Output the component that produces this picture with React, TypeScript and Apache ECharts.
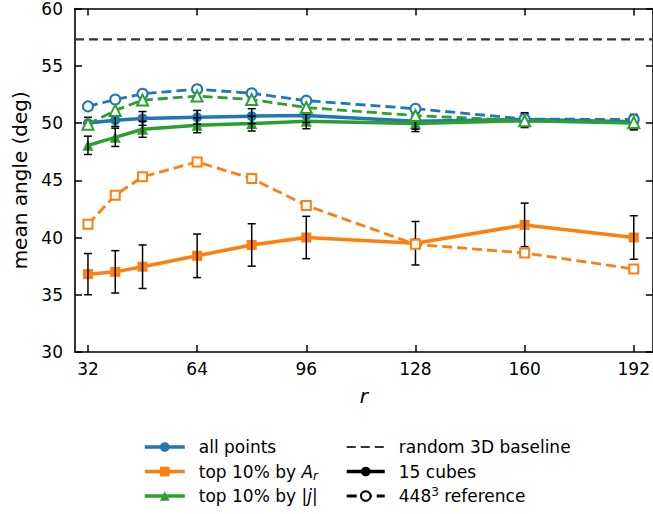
import React, { useEffect, useRef } from 'react';
import * as echarts from 'echarts';

// ---- data ----
const rValues = [32, 40, 48, 64, 80, 96, 128, 160, 192];
const xTicks = [32, 64, 96, 128, 160, 192];
const yTicks = [30, 35, 40, 45, 50, 55, 60];

const allCubes = [50.0, 50.25, 50.4, 50.5, 50.6, 50.65, 50.15, 50.3, 50.1];
const allCubesErr = [0.5, 0.55, 0.6, 0.6, 0.65, 0.6, 0.7, 0.6, 0.65];
const allRef = [51.45, 52.05, 52.55, 52.95, 52.6, 51.95, 51.25, 50.35, 50.3];

const arCubes = [36.8, 37.0, 37.45, 38.4, 39.35, 40.0, 39.5, 41.1, 40.0];
const arCubesErr = [1.8, 1.85, 1.9, 1.9, 1.85, 1.85, 1.9, 1.9, 1.9];
const arRef = [41.15, 43.7, 45.3, 46.6, 45.15, 42.8, 39.4, 38.65, 37.25];

const jCubes = [48.05, 48.75, 49.45, 49.8, 49.95, 50.15, 49.95, 50.2, 50.0];
const jCubesErr = [0.8, 0.8, 0.7, 0.65, 0.65, 0.65, 0.7, 0.6, 0.6];
const jRef = [49.9, 51.1, 52.0, 52.35, 52.05, 51.35, 50.65, 50.2, 50.05];

const baselineValue = 57.2958; // random 3D baseline (1 rad)

const X_MIN = 28.2;
const X_MAX = 197.6;

const FONT = 'DejaVu Sans';
const BLUE = '#1f77b4';
const ORANGE = '#ff7f0e';
const GREEN = '#2ca02c';
const DASH = [10, 5];

const pairs = (vals: number[]) => rValues.map((r, i) => [r, vals[i]]);
const errData = (vals: number[], errs: number[]) =>
  rValues.map((r, i) => [r, vals[i] - errs[i], vals[i] + errs[i]]);

const renderErr = (_params: any, api: any) => {
  const x = api.value(0);
  const lo = api.coord([x, api.value(1)]);
  const hi = api.coord([x, api.value(2)]);
  const half = 4;
  const style = { stroke: '#000', lineWidth: 1.5 };
  return {
    type: 'group',
    children: [
      { type: 'line', shape: { x1: lo[0], y1: lo[1], x2: hi[0], y2: hi[1] }, style },
      { type: 'line', shape: { x1: lo[0] - half, y1: lo[1], x2: lo[0] + half, y2: lo[1] }, style },
      { type: 'line', shape: { x1: hi[0] - half, y1: hi[1], x2: hi[0] + half, y2: hi[1] }, style },
    ],
  };
};

const cubesSeries = (name: string, vals: number[], color: string, symbol: string, size: number) => ({
  name,
  type: 'line',
  data: pairs(vals),
  symbol,
  symbolSize: size,
  showSymbol: true,
  itemStyle: { color },
  lineStyle: { color, width: 3.5 },
  z: 2,
});

const refSeries = (name: string, vals: number[], color: string, symbol: string, size: number) => ({
  name,
  type: 'line',
  data: pairs(vals),
  symbol,
  symbolSize: size,
  showSymbol: true,
  itemStyle: { color: '#fff', borderColor: color, borderWidth: 2 },
  lineStyle: { color, width: 2.8, type: DASH },
  z: 4,
});

const errSeries = (name: string, vals: number[], errs: number[]) => ({
  name,
  type: 'custom',
  data: errData(vals, errs),
  encode: { x: 0, y: [1, 2] },
  renderItem: renderErr,
  z: 3,
});

const textBase = { fontFamily: FONT, fontSize: 17, color: '#000', lineHeight: 20 };
const rich = {
  i: { ...textBase, fontStyle: 'italic' },
  sub: { fontFamily: FONT, fontSize: 12, fontStyle: 'italic', color: '#000', lineHeight: 8, verticalAlign: 'bottom' },
  sup: { fontFamily: FONT, fontSize: 12, color: '#000', lineHeight: 8, verticalAlign: 'top' },
};

const legendNames: Record<string, string> = {
  'all points': 'all points',
  'top 10% by Ar': 'top 10% by {i|A}{sub|r}',
  'top 10% by |j|': 'top 10% by |{i|j}|',
  'random 3D baseline': 'random 3D baseline',
  '15 cubes': '15 cubes',
  '448³ reference': '448{sup|3} reference',
};

const solidLegend = { width: 3.5 };
const dashLegend = { width: 2.8 };

export default function App() {
  const ref = useRef<HTMLDivElement>(null);
  useEffect(() => {
    document.body.style.margin = '0';
    if (!ref.current) return;
    const chart = echarts.init(ref.current, undefined, { renderer: 'svg' });
    const axisLine = { show: true, onZero: false, lineStyle: { color: '#000', width: 1.6 } };
    const tick = { show: true, inside: true, length: 7, lineStyle: { color: '#000', width: 1.5 } };
    const option: any = {
      animation: false,
      backgroundColor: '#fff',
      grid: { left: 75, right: 0, top: 8, bottom: 162, containLabel: false },
      xAxis: [
        {
          type: 'value',
          position: 'bottom',
          min: X_MIN,
          max: X_MAX,
          axisLine,
          axisTick: { ...tick, customValues: xTicks },
          axisLabel: { customValues: xTicks, fontFamily: FONT, fontSize: 17, color: '#000', margin: 8 },
          splitLine: { show: false },
          name: 'r',
          nameLocation: 'middle',
          nameGap: 34,
          nameTextStyle: { fontFamily: FONT, fontSize: 20, fontStyle: 'italic', color: '#000' },
        },
        {
          type: 'value',
          position: 'top',
          min: X_MIN,
          max: X_MAX,
          axisLine,
          axisTick: { ...tick, customValues: xTicks },
          axisLabel: { show: false, customValues: xTicks },
          splitLine: { show: false },
        },
      ],
      yAxis: [
        {
          type: 'value',
          position: 'left',
          min: 30,
          max: 60,
          interval: 5,
          axisLine,
          axisTick: { ...tick, customValues: yTicks },
          axisLabel: { customValues: yTicks, fontFamily: FONT, fontSize: 17, color: '#000', margin: 12 },
          splitLine: { show: false },
          name: 'mean angle (deg)',
          nameLocation: 'middle',
          nameGap: 43,
          nameRotate: 90,
          nameTextStyle: { fontFamily: FONT, fontSize: 20, color: '#000' },
        },
        {
          type: 'value',
          position: 'right',
          min: 30,
          max: 60,
          interval: 5,
          axisLine,
          axisTick: { ...tick, customValues: yTicks },
          axisLabel: { show: false },
          splitLine: { show: false },
        },
      ],
      legend: [
        {
          orient: 'vertical',
          left: 143,
          top: 437,
          padding: 0,
          itemGap: 4.5,
          itemWidth: 40,
          itemHeight: 12,
          selectedMode: false,
          data: [
            { name: 'all points', lineStyle: solidLegend },
            { name: 'top 10% by Ar', lineStyle: solidLegend },
            { name: 'top 10% by |j|', lineStyle: solidLegend },
          ],
          formatter: (n: string) => legendNames[n] ?? n,
          textStyle: { ...textBase, padding: [0, 0, 0, 9], rich },
        },
        {
          orient: 'vertical',
          left: 345,
          top: 437,
          padding: 0,
          itemGap: 4.5,
          itemWidth: 38,
          itemHeight: 12,
          selectedMode: false,
          data: [
            { name: 'random 3D baseline', itemStyle: { opacity: 0 }, lineStyle: { width: 2.2 } },
            { name: '15 cubes', lineStyle: solidLegend },
            { name: '448³ reference', lineStyle: dashLegend },
          ],
          formatter: (n: string) => legendNames[n] ?? n,
          textStyle: { ...textBase, padding: [0, 0, 0, 9], rich },
        },
      ],
      series: [
        {
          name: 'random 3D baseline',
          type: 'line',
          data: [
            [X_MIN, baselineValue],
            [X_MAX, baselineValue],
          ],
          symbol: 'circle',
          showSymbol: false,
          itemStyle: { color: '#333333' },
          lineStyle: { color: '#333333', width: 2.2, type: [9, 5] },
          z: 1,
        },
        cubesSeries('all points', allCubes, BLUE, 'circle', 10),
        errSeries('all points error', allCubes, allCubesErr),
        refSeries('all points (448³)', allRef, BLUE, 'circle', 10),
        cubesSeries('top 10% by Ar', arCubes, ORANGE, 'rect', 10),
        errSeries('top 10% by Ar error', arCubes, arCubesErr),
        refSeries('top 10% by Ar (448³)', arRef, ORANGE, 'rect', 9),
        cubesSeries('top 10% by |j|', jCubes, GREEN, 'triangle', 11),
        errSeries('top 10% by |j| error', jCubes, jCubesErr),
        refSeries('top 10% by |j| (448³)', jRef, GREEN, 'triangle', 11),
        {
          name: '15 cubes',
          type: 'line',
          data: [],
          symbol: 'circle',
          itemStyle: { color: '#000' },
          lineStyle: { color: '#000', width: 3.5 },
        },
        {
          name: '448³ reference',
          type: 'line',
          data: [],
          symbol: 'emptyCircle',
          itemStyle: { color: '#000' },
          lineStyle: { color: '#000', width: 2.8, type: DASH },
        },
      ],
    };
    chart.setOption(option);
    return () => chart.dispose();
  }, []);
  return <div ref={ref} style={{ width: 653, height: 514 }} />;
}
